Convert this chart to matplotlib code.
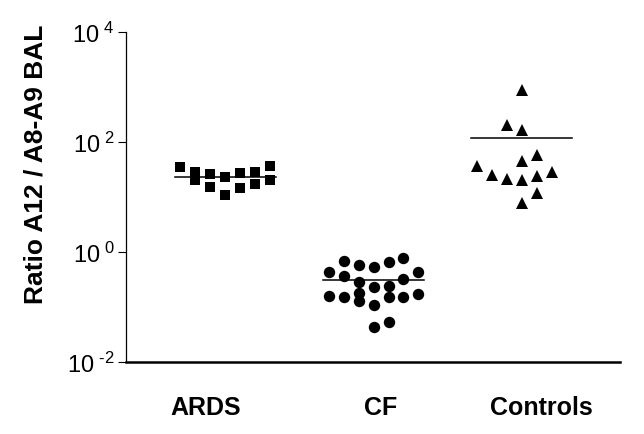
import math
import matplotlib.pyplot as plt
from matplotlib.ticker import FixedLocator, FuncFormatter

plt.rcParams['font.family'] = ['Liberation Sans', 'DejaVu Sans']
plt.rcParams['mathtext.fontset'] = 'custom'
plt.rcParams['mathtext.rm'] = 'Liberation Sans'

groups = ['ARDS', 'CF', 'Controls']

# ratio values, with the jitter column (-3..3) each point sits in
ards_vals = [35, 28, 20, 26, 15, 23, 11, 27, 14.6, 29, 17, 37, 20]
ards_cols = [-3, -2, -2, -1, -1, 0, 0, 1, 1, 2, 2, 3, 3]
cf_vals = [0.43, 0.16, 0.69, 0.37, 0.15, 0.58, 0.29, 0.18, 0.127,
           0.54, 0.23, 0.11, 0.043, 0.65, 0.24, 0.15, 0.053,
           0.77, 0.32, 0.15, 0.43, 0.17]
cf_cols = [-3, -3, -2, -2, -2, -1, -1, -1, -1,
           0, 0, 0, 0, 1, 1, 1, 1,
           2, 2, 2, 3, 3]
ctrl_vals = [37, 25, 204, 21, 890, 162, 46, 20.6, 7.8, 58, 24, 11.7, 29]
ctrl_cols = [-3, -2, -1, -1, 0, 0, 0, 0, 0, 1, 1, 1, 2]
medians = [23, 0.31, 118]

fig = plt.figure(figsize=(6.44, 4.35), dpi=100)
ax = fig.add_axes([0.1957, 0.1655, 0.767, 0.7586])

step = 0.101
series = [(ards_vals, ards_cols, 's', 7.4),
          (cf_vals, cf_cols, 'o', 8.2),
          (ctrl_vals, ctrl_cols, '^', 8.5)]
for i, (vals, cols, mk, ms) in enumerate(series):
    xs = [i + 1 + c * step for c in cols]
    ax.plot(xs, vals, linestyle='none', marker=mk, markersize=ms,
            color='black', markeredgewidth=0)
    ax.plot([i + 1 - 0.34, i + 1 + 0.34], [medians[i], medians[i]],
            color='black', lw=1.1)


def fmt(v, p):
    e = round(math.log10(v))
    return r'$\mathregular{10^{\ \text{%d}}}$' % e


ax.set_yscale('log')
ax.set_ylim(1e-2, 1e4)
ax.set_xlim(0.331, 3.662)
ax.yaxis.set_major_locator(FixedLocator([1e-2, 1e0, 1e2, 1e4]))
ax.yaxis.set_minor_locator(FixedLocator([]))
ax.yaxis.set_major_formatter(FuncFormatter(fmt))
ax.tick_params(axis='y', direction='out', length=6, width=0.8,
               labelsize=17, pad=2)

ax.set_xticks([0.865, 2.047, 3.135])
ax.set_xticklabels(groups, fontsize=18, fontweight='bold')
ax.tick_params(axis='x', length=0, pad=24)

ax.spines['top'].set_visible(False)
ax.spines['right'].set_visible(False)
ax.spines['left'].set_linewidth(0.9)
ax.spines['bottom'].set_linewidth(1.8)

ax.set_ylabel('Ratio A12 / A8-A9 BAL', fontsize=19, fontweight='bold')
ax.yaxis.set_label_coords(-0.158, 0.603)

fig.savefig('out.png', dpi=100)
